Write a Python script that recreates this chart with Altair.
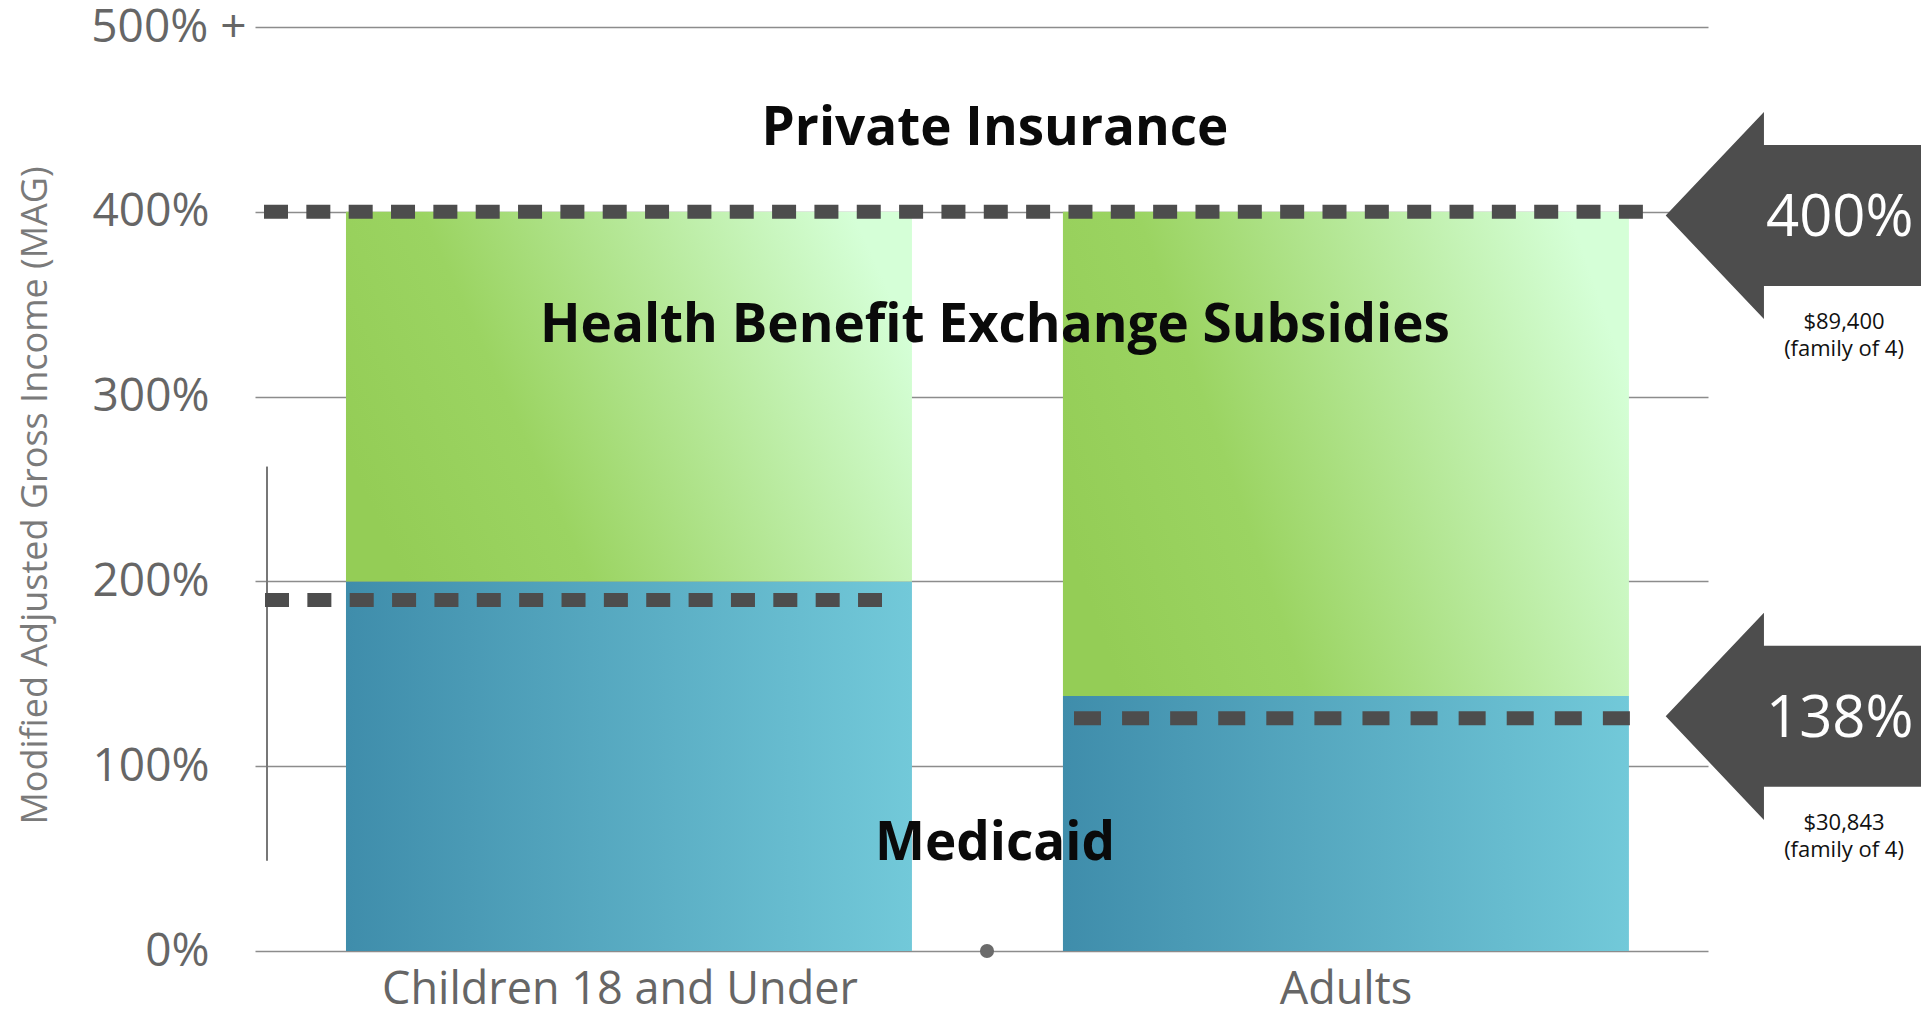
import altair as alt
import pandas as pd

# ---------------- data ----------------
categories = ["Children 18 and Under", "Adults"]
medicaid_limit = [200, 138]
exchange_limit = [400, 400]

threshold_names = ["exchange", "children", "adults"]
threshold_values = [400, 190, 126]

region_labels = ["Private Insurance", "Health Benefit Exchange Subsidies", "Medicaid"]
region_levels = [445, 338, 58]

arrow_texts = ["400%", "138%"]
arrow_levels = [398, 127]
arrow_incomes = ["$89,400", "$30,843"]
arrow_notes = ["(family of 4)", "(family of 4)"]

y_ticks = [0, 100, 200, 300, 400, 500]
y_title = "Modified Adjusted Gross Income (MAG)"
side_rule_range = [49, 262]

# ---------------- tables ----------------
bars_df = pd.DataFrame({"cat": categories, "medicaid": medicaid_limit, "exchange": exchange_limit})
thr_df = pd.DataFrame({"name": threshold_names, "value": threshold_values})
reg_df = pd.DataFrame({"label": region_labels, "level": region_levels})
arr_df = pd.DataFrame({"label": arrow_texts, "level": arrow_levels})
arr_df["sub"] = [[a, b] for a, b in zip(arrow_incomes, arrow_notes)]

FONT = "Open Sans"
W, H = 1453, 924
DARK = "#4d4d4d"

xscale = alt.Scale(domain=categories, paddingInner=0.2106, paddingOuter=0.1186, align=0.535)
yscale = alt.Scale(domain=[0, 500], nice=False, zero=True)

x_axis = alt.Axis(title=None, labelAngle=0, labelFont=FONT, labelFontSize=45,
                  labelColor="#666666", labelPadding=52, labelBaseline="alphabetic",
                  labelLimit=0,
                  labelOffset={"condition": {"test": f"datum.value == '{categories[0]}'", "value": -9},
                               "value": 0},
                  domain=False, ticks=False, grid=False)

y_axis = alt.Axis(values=y_ticks,
                  labelExpr="datum.value == 500 ? '500% +' : datum.value + '%'",
                  labelPadding={"condition": {"test": "datum.value == 500", "value": 9}, "value": 46},
                  labelFont=FONT, labelFontSize=46, labelColor="#666666",
                  grid=True, gridColor="#8c8c8c", gridWidth=1.6,
                  domain=False, ticks=False,
                  title=y_title, titleFont=FONT, titleFontSize=36, titleFontWeight="normal",
                  titleColor="#7a7a7a", titleAngle=270, titleX=-220, titleY=468,
                  titleAlign="center", titleBaseline="middle")


def Y(field=None, **kw):
    if field is None:
        return alt.Y(scale=yscale, axis=y_axis, **kw)
    return alt.Y(field, scale=yscale, axis=y_axis, **kw)


blue_grad = alt.Gradient(gradient="linear",
                         stops=[alt.GradientStop(color="#3f8dab", offset=0),
                                alt.GradientStop(color="#72c9d9", offset=1)],
                         x1=0, x2=1, y1=0, y2=0)
green_grad = alt.Gradient(gradient="linear",
                          stops=[alt.GradientStop(color="#94cd56", offset=0),
                                 alt.GradientStop(color="#9bd462", offset=0.3),
                                 alt.GradientStop(color="#d5ffd7", offset=1)],
                          x1=0, x2=1, y1=0.65, y2=0.35)

blue = alt.Chart(bars_df).mark_bar(color=blue_grad).encode(
    x=alt.X("cat:N", scale=xscale, sort=categories, axis=x_axis),
    y=Y("medicaid:Q"),
)
green = alt.Chart(bars_df).mark_bar(color=green_grad).encode(
    x=alt.X("cat:N", scale=xscale, sort=categories, axis=x_axis),
    y=Y("medicaid:Q"),
    y2="exchange:Q",
)


def dashed(name, x0, x1, dash):
    return alt.Chart(thr_df).transform_filter(alt.datum.name == name).mark_rule(
        color=DARK, strokeWidth=14, strokeDash=dash, strokeCap="butt"
    ).encode(
        y=Y("value:Q"),
        x=alt.value(x0), x2=alt.value(x1),
    )


dash_400 = dashed("exchange", 9, 1388, [24, 18.34])
dash_ch = dashed("children", 10, 627, [24, 18.36])
dash_ad = dashed("adults", 819, 1375, [27, 21.08])

side_rule = alt.Chart(bars_df).mark_rule(color="#777777", strokeWidth=2).encode(
    x=alt.value(12),
    y=Y(datum=side_rule_range[0]),
    y2=alt.Y2(datum=side_rule_range[1]),
)

dot = alt.Chart(bars_df).transform_filter(alt.datum.cat == categories[0]).mark_circle(
    size=200, color="#6b6b6b", opacity=1
).encode(x=alt.value(732), y=Y(datum=0))

regions = alt.Chart(reg_df).mark_text(
    font=FONT, fontSize=53, fontWeight="bold", color="#0a0a0a",
    align="center", baseline="middle"
).encode(x=alt.value(740), y=Y("level:Q"), text="label:N")

ARROW = "M-1,0 L-0.25,-0.791 L-0.25,-0.538 L1,-0.538 L1,0.538 L-0.25,0.538 L-0.25,0.791 Z"
arrows = alt.Chart(arr_df).mark_point(
    shape=ARROW, size=262 * 262, filled=True, color=DARK, opacity=1, strokeWidth=0
).encode(x=alt.value(1541.7), y=Y("level:Q"))

arrow_lbl = alt.Chart(arr_df).mark_text(
    font=FONT, fontSize=58, color="white", align="left", baseline="middle", dy=4
).encode(x=alt.value(1511), y=Y("level:Q"), text="label:N")

sub_lbl = alt.Chart(arr_df).mark_text(
    font=FONT, fontSize=22, color="#111111", align="center", baseline="middle",
    lineHeight=27, dy=107
).encode(x=alt.value(1589), y=Y("level:Q"), text="sub")

chart = alt.layer(
    blue, green, side_rule, dash_400, dash_ch, dash_ad, dot, regions,
    arrows, arrow_lbl, sub_lbl
).properties(
    width=W, height=H,
    autosize=alt.AutoSizeParams(type="none"),
    padding={"left": 247, "top": 19, "right": 213, "bottom": 58},
    background="white",
).configure_view(stroke=None)

chart.save("out.html", embed_options={"renderer": "svg", "actions": False})
